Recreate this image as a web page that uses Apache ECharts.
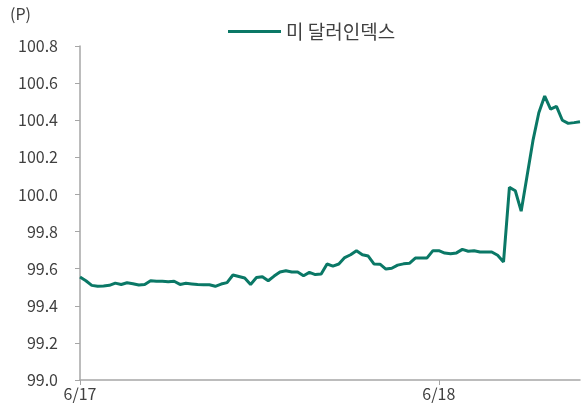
<!DOCTYPE html>
<html>
  <head>
    <meta charset="utf-8" />
    <title>미 달러인덱스</title>
    <script src="https://cdn.jsdelivr.net/npm/echarts@6/dist/echarts.min.js"></script>
  </head>
  <body style="margin: 0">
    <div id="main" style="width: 584px; height: 412px"></div>
  </body>
  <script>
    // 6/17 ~ 6/18 달러인덱스
    var seriesName = '미 달러인덱스'
    var dayLabels = ['6/17', '6/18']
    var dayIndex = [0, 61]
    var dxy = [
      99.555, 99.535, 99.51, 99.505, 99.507, 99.51, 99.522, 99.515, 99.524, 99.519,
      99.512, 99.515, 99.535, 99.532, 99.532, 99.53, 99.532, 99.515, 99.521, 99.518,
      99.515, 99.513, 99.513, 99.505, 99.517, 99.525, 99.566, 99.558, 99.55, 99.515,
      99.552, 99.557, 99.535, 99.56, 99.582, 99.589, 99.582, 99.582, 99.562, 99.58,
      99.568, 99.571, 99.625, 99.614, 99.625, 99.66, 99.675, 99.697, 99.675, 99.668,
      99.625, 99.624, 99.598, 99.602, 99.619, 99.626, 99.629, 99.657, 99.657, 99.658,
      99.697, 99.697, 99.684, 99.68, 99.685, 99.704, 99.694, 99.697, 99.69, 99.69,
      99.69, 99.672, 99.636, 100.038, 100.02, 99.91, 100.1, 100.29, 100.44, 100.53,
      100.46, 100.475, 100.4, 100.383, 100.387, 100.392
    ]

    var categories = []
    for (var i = 0; i < dxy.length; i++) {
      var k = dayIndex.indexOf(i)
      categories.push(k >= 0 ? dayLabels[k] : '')
    }
    function isDay(idx) {
      return dayIndex.indexOf(idx) >= 0
    }

    var fontFam = '"Noto Sans CJK KR", "Noto Sans", sans-serif'
    var chart = echarts.init(document.getElementById('main'))
    var option = {
      animation: false,
      textStyle: { fontFamily: fontFam },
      graphic: [
        {
          type: 'text',
          left: 10,
          top: 6,
          style: { text: '(P)', fontSize: 16, fill: '#404040', fontFamily: fontFam }
        }
      ],
      legend: {
        top: 17,
        left: 223,
        icon: 'rect',
        itemWidth: 53,
        itemHeight: 3,
        itemGap: 5,
        textStyle: { fontSize: 19, color: '#404040' },
        data: [seriesName]
      },
      grid: { left: 80, right: 4, top: 46, bottom: 32 },
      xAxis: {
        type: 'category',
        boundaryGap: false,
        data: categories,
        axisLine: { lineStyle: { color: '#a6a6a6', width: 1.5 } },
        axisTick: {
          interval: function (idx) { return isDay(idx) },
          length: 5,
          lineStyle: { color: '#a6a6a6' }
        },
        axisLabel: {
          interval: function (idx) { return isDay(idx) },
          fontSize: 16,
          color: '#404040',
          margin: 6
        },
        splitLine: { show: false }
      },
      yAxis: {
        type: 'value',
        min: 99.0,
        max: 100.8,
        interval: 0.2,
        axisLine: { show: true, lineStyle: { color: '#a6a6a6', width: 1.5 } },
        axisTick: { show: true, length: 5, lineStyle: { color: '#a6a6a6' } },
        axisLabel: {
          fontSize: 16,
          color: '#404040',
          margin: 22,
          formatter: function (v) { return v.toFixed(1) }
        },
        splitLine: { show: false }
      },
      series: [
        {
          name: seriesName,
          type: 'line',
          data: dxy,
          showSymbol: false,
          symbol: 'none',
          lineStyle: { color: '#0a7866', width: 3 },
          itemStyle: { color: '#0a7866' }
        }
      ]
    }
    option && chart.setOption(option)
  </script>
</html>
